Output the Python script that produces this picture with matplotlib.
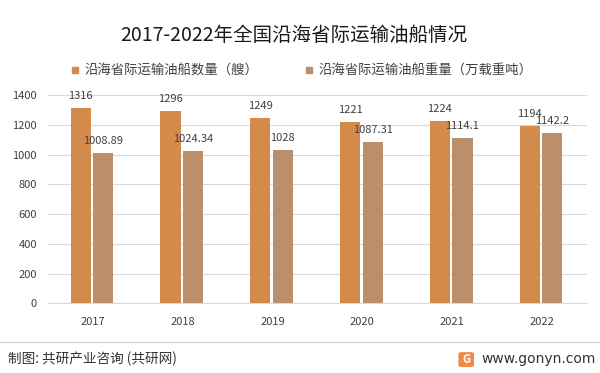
import matplotlib.pyplot as plt
from matplotlib.patches import FancyBboxPatch
from matplotlib.lines import Line2D
import numpy as np

plt.rcParams['font.family'] = ['Noto Sans CJK SC', 'DejaVu Sans']

# 数据
years = ['2017', '2018', '2019', '2020', '2021', '2022']
ship_count = [1316, 1296, 1249, 1221, 1224, 1194]
ship_tonnage = [1008.89, 1024.34, 1028, 1087.31, 1114.1, 1142.2]
count_labels = ['1316', '1296', '1249', '1221', '1224', '1194']
tonnage_labels = ['1008.89', '1024.34', '1028', '1087.31', '1114.1', '1142.2']
series_names = ['沿海省际运输油船数量（艘）', '沿海省际运输油船重量（万载重吨）']

c_orange = '#D38B4C'
c_brown = '#BB8E6C'

fig = plt.figure(figsize=(6, 3.73), dpi=100)
ax = fig.add_axes([0.08, 0.187, 0.898, 0.558])

x = np.arange(len(years))
w = 0.225
b1 = ax.bar(x - 0.135, ship_count, w, color=c_orange, zorder=3)
b2 = ax.bar(x + 0.115, ship_tonnage, w, color=c_brown, zorder=3)
ax.bar_label(b1, labels=count_labels, padding=5, fontsize=8, color='#404040')
ax.bar_label(b2, labels=tonnage_labels, padding=5, fontsize=8, color='#404040')

ax.set_xlim(-0.5, len(years) - 0.5)
ax.set_ylim(0, 1400)
ax.set_yticks(range(0, 1401, 200))
ax.set_xticks(x)
ax.set_xticklabels(years)
ax.tick_params(axis='both', length=0, labelsize=8, colors='#404040')
ax.tick_params(axis='x', pad=10)
ax.tick_params(axis='y', pad=8)
ax.grid(axis='y', color='#d9d9d9', linewidth=0.8, zorder=0)
for s in ['top', 'right', 'left']:
    ax.spines[s].set_visible(False)
ax.spines['bottom'].set_color('#d9d9d9')

# 标题
fig.text(0.49, 0.905, '2017-2022年全国沿海省际运输油船情况', fontsize=14, ha='center', va='center',
         color='#1a1a1a')

# 图例
handles = [Line2D([], [], marker='s', linestyle='', color=c_orange, markersize=5),
           Line2D([], [], marker='s', linestyle='', color=c_brown, markersize=5)]
fig.legend(handles, series_names, loc='center', bbox_to_anchor=(0.502, 0.81), ncol=2, frameon=False,
           fontsize=9.6, handlelength=0.8, handletextpad=0.3, columnspacing=3.4, labelcolor='#404040')

# 底部
fig.add_artist(Line2D([0.0, 1.0], [0.083, 0.083], color='#d0d0d0', linewidth=0.8))
fig.text(0.013, 0.037, '制图: 共研产业咨询 (共研网)', fontsize=9.8, va='center', color='#333333')
logo = FancyBboxPatch((0.766, 0.018), 0.022, 0.036, boxstyle='round,pad=0.002,rounding_size=0.005',
                      transform=fig.transFigure, facecolor='#F08A4B', edgecolor='none')
fig.add_artist(logo)
fig.text(0.777, 0.036, 'G', fontsize=8, fontweight='bold', color='white', ha='center', va='center')
fig.text(0.802, 0.037, 'www.gonyn.com', fontsize=10, va='center', color='#333333', family='DejaVu Sans')

fig.savefig('out.png', dpi=100)
